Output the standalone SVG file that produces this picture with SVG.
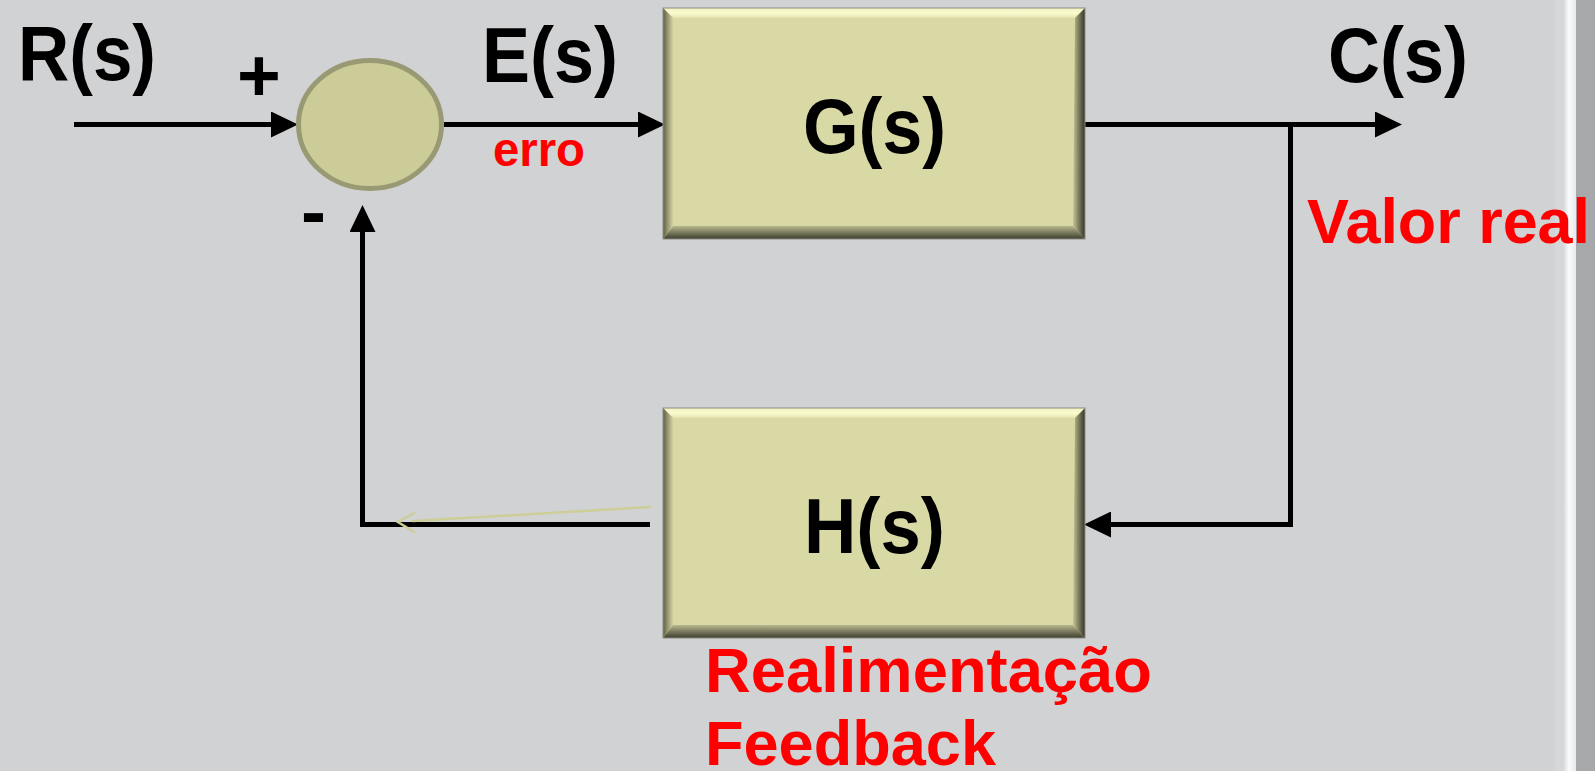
<svg xmlns="http://www.w3.org/2000/svg" width="1595" height="771" viewBox="0 0 1595 771">
  <style>
    .lbl { font-family: "Liberation Sans", Arial, sans-serif; font-weight: bold; fill: #000; }
    .red { font-family: "Liberation Sans", Arial, sans-serif; font-weight: bold; fill: #ff0000; }
    .wire { fill: none; stroke: #000; stroke-width: 5; stroke-linejoin: miter; }
    .face { fill: #d9d9a5; }
  </style>
  <defs>
    <marker id="arr" viewBox="0 0 27 26" refX="1" refY="13" markerWidth="27" markerHeight="26" markerUnits="userSpaceOnUse" orient="auto">
      <path d="M0,0 L27,13 L0,26 z" fill="#000"/>
    </marker>
    <linearGradient id="gTop" x1="0" y1="0" x2="0" y2="1">
      <stop offset="0" stop-color="#f2f2c4"/>
      <stop offset="0.5" stop-color="#fbfbcf"/>
      <stop offset="1" stop-color="#e2e2b0"/>
    </linearGradient>
    <linearGradient id="gBot" x1="0" y1="0" x2="0" y2="1">
      <stop offset="0" stop-color="#b8b88e"/>
      <stop offset="0.6" stop-color="#6e6e55"/>
      <stop offset="1" stop-color="#3e3e30"/>
    </linearGradient>
    <linearGradient id="gLeft" x1="0" y1="0" x2="1" y2="0">
      <stop offset="0" stop-color="#5e5e46"/>
      <stop offset="0.5" stop-color="#9a9a74"/>
      <stop offset="1" stop-color="#d2d2a0"/>
    </linearGradient>
    <linearGradient id="gRight" x1="0" y1="0" x2="1" y2="0">
      <stop offset="0" stop-color="#c6c696"/>
      <stop offset="0.5" stop-color="#7a7a5c"/>
      <stop offset="1" stop-color="#35352a"/>
    </linearGradient>
    <linearGradient id="gEdge" x1="0" y1="0" x2="1" y2="0">
      <stop offset="0" stop-color="#d4d5d7"/>
      <stop offset="0.45" stop-color="#fafbfd"/>
      <stop offset="1" stop-color="#e8e9eb"/>
    </linearGradient>
  </defs>

  <rect x="0" y="0" width="1595" height="771" fill="#d1d2d4"/>
  <rect x="1555" y="0" width="9" height="771" fill="#d6d7d9"/>
  <rect x="1563" y="0" width="13" height="771" fill="url(#gEdge)"/>
  <rect x="1576" y="0" width="19" height="771" fill="#a7a8aa"/>

  <g id="connectors">
    <path class="wire" d="M74,124.5 H272" marker-end="url(#arr)"/>
    <path class="wire" d="M444,124.5 H639" marker-end="url(#arr)"/>
    <path class="wire" d="M1085,124.5 H1376" marker-end="url(#arr)"/>
    <path class="wire" d="M1290.5,124.5 V524.5 H1110" marker-end="url(#arr)"/>
    <path class="wire" d="M650,524.5 H362.5 V231" marker-end="url(#arr)"/>
    <g fill="none" stroke="#cdcd98" stroke-width="2.5" stroke-linecap="round">
      <line x1="650" y1="507" x2="413" y2="521"/>
      <polyline points="414,513 398,522 414,532"/>
    </g>
  </g>

  <g id="sum">
    <ellipse cx="370" cy="124.5" rx="71.5" ry="64" fill="#cccc99" stroke="#999973" stroke-width="5"/>
  </g>

  <g id="G">
    <rect class="face" x="663" y="8" width="422" height="231"/>
    <polygon points="663,8 1085,8 1075,18 673,18" fill="url(#gTop)"/>
    <polygon points="663,239 1085,239 1073,226 673,226" fill="url(#gBot)"/>
    <polygon points="663,8 673,18 673,226 663,239" fill="url(#gLeft)"/>
    <polygon points="1085,8 1075,18 1073,226 1085,239" fill="url(#gRight)"/>
    <rect x="663" y="8" width="422" height="231" fill="none" stroke="#8c8c80" stroke-width="1"/>
    <text class="lbl" x="803" y="153" font-size="77" textLength="143" lengthAdjust="spacingAndGlyphs">G(s)</text>
  </g>

  <g id="H">
    <rect class="face" x="663" y="408" width="422" height="230"/>
    <polygon points="663,408 1085,408 1075,418 673,418" fill="url(#gTop)"/>
    <polygon points="663,638 1085,638 1073,625 673,625" fill="url(#gBot)"/>
    <polygon points="663,408 673,418 673,625 663,638" fill="url(#gLeft)"/>
    <polygon points="1085,408 1075,418 1073,625 1085,638" fill="url(#gRight)"/>
    <rect x="663" y="408" width="422" height="230" fill="none" stroke="#8c8c80" stroke-width="1"/>
    <text class="lbl" x="804" y="553" font-size="77" textLength="141" lengthAdjust="spacingAndGlyphs">H(s)</text>
  </g>

  <g id="labels">
    <text class="lbl" x="18" y="80" font-size="77" textLength="138" lengthAdjust="spacingAndGlyphs">R(s)</text>
    <text class="lbl" x="259" y="101" font-size="75" text-anchor="middle">+</text>
    <text class="lbl" x="313.5" y="237" font-size="75" text-anchor="middle">-</text>
    <text class="lbl" x="482" y="82" font-size="77" textLength="136" lengthAdjust="spacingAndGlyphs">E(s)</text>
    <text class="red" x="493" y="166" font-size="48" textLength="92" lengthAdjust="spacingAndGlyphs">erro</text>
    <text class="lbl" x="1328" y="82" font-size="77" textLength="140" lengthAdjust="spacingAndGlyphs">C(s)</text>
    <text class="red" x="1307" y="243" font-size="63" textLength="283" lengthAdjust="spacingAndGlyphs">Valor real</text>
    <text class="red" x="705" y="692" font-size="63" textLength="447" lengthAdjust="spacingAndGlyphs">Realimentação</text>
    <text class="red" x="705" y="765" font-size="63" textLength="291" lengthAdjust="spacingAndGlyphs">Feedback</text>
  </g>
</svg>
